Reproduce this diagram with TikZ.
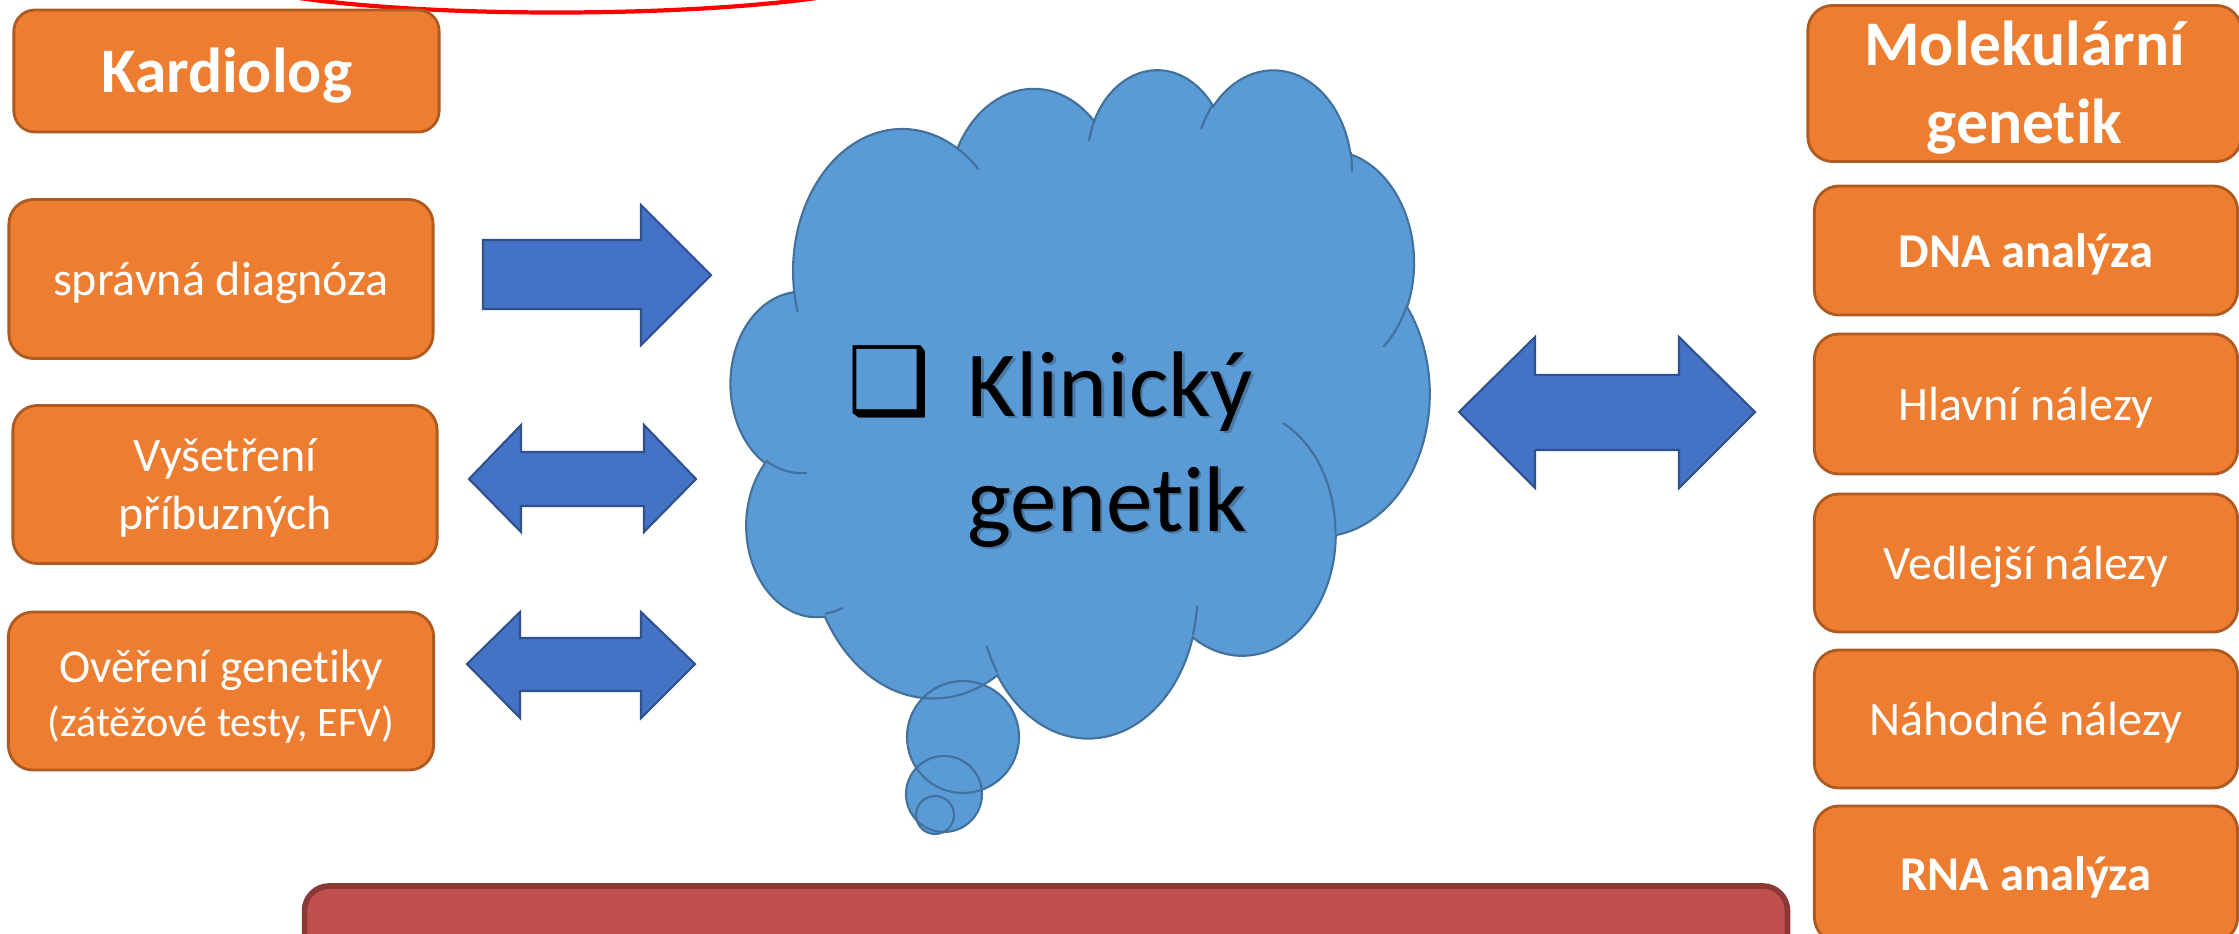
\documentclass[tikz,border=0pt]{standalone}
\usepackage{fontspec}
\setmainfont{Carlito}[Ligatures=NoCommon]
\newfontfamily\dejavu{DejaVu Sans}
\definecolor{orangeF}{HTML}{ED7D31}
\definecolor{orangeD}{HTML}{AE5A21}
\definecolor{arrowF}{HTML}{4472C4}
\definecolor{arrowD}{HTML}{2F528F}
\definecolor{cloudF}{HTML}{5B9BD5}
\definecolor{cloudD}{HTML}{41719C}
\definecolor{redF}{HTML}{C0504D}
\definecolor{redD}{HTML}{8C3836}
\newcommand\arcprep[5]{%
  \pgfmathsetmacro\tmpA{atan2(#2*sin(#4),#3*cos(#4))}%
  \pgfmathsetmacro\tmpB{atan2(#2*sin(#4+#5),#3*cos(#4+#5))}%
  \pgfmathsetmacro\tmpD{Mod(\tmpB-\tmpA,360)}%
  \expandafter\xdef\csname arc#1\endcsname{arc[x radius=#2, y radius=#3, start angle=\tmpA, delta angle=\tmpD]}%
}
\tikzset{
  obox/.style={draw=orangeD, fill=orangeF, line width=0.8pt, rounded corners=7pt, inner sep=0pt},
  sz/.style 2 args={minimum width={#1*0.28453pt}, minimum height={#2*0.28453pt}},
  txt/.style={text=white, inner sep=0pt, anchor=base},
  fr/.style={font=\fontsize{13.66}{16.7}\selectfont},
  frs/.style={font=\fontsize{11.95}{14.6}\selectfont},
  fb/.style={font=\bfseries\fontsize{13.8}{16.8}\selectfont},
  fbig/.style={font=\bfseries\fontsize{18.07}{22}\selectfont},
  barrow/.style={fill=arrowF, draw=arrowD, line width=0.6pt, line join=miter},
  ctext/.style={font=\fontsize{26.5}{33}\selectfont, inner sep=0pt, anchor=base west},
  cshadow/.style={ctext, text=black, opacity=0.22},
  cloudframe/.style={shift={(731,68)}, x=0.01615741cm, y=-0.01546296cm},
}
\begin{document}
\begin{tikzpicture}[x=0.01cm, y=-0.01cm]
\useasboundingbox (0,0) rectangle (2239,933);
\clip (0,0) rectangle (2239,933);
% arc preparation (OOXML cloud geometry, units of 100)
\arcprep{A}{67.53}{91.90}{-190.4875}{123.7805}
\arcprep{B}{53.33}{72.67}{-144.1024}{89.9452}
\arcprep{C}{43.65}{59.45}{-145.8079}{99.7230}
\arcprep{D}{48.57}{65.95}{-130.9861}{117.2417}
\arcprep{E}{53.33}{72.73}{-78.7089}{109.0269}
\arcprep{F}{67.75}{92.20}{-46.2673}{130.2690}
\arcprep{G}{57.85}{78.67}{0.6250}{114.0333}
\arcprep{H}{67.52}{92.15}{22.4516}{115.1726}
\arcprep{I}{77.20}{105.43}{66.2426}{75.7110}
\arcprep{J}{43.60}{59.18}{-274.9421}{146.7356}
\arcprep{K}{43.45}{59.45}{-246.8285}{152.5189}
\arcprep{a}{43.45}{59.45}{86.7420}{26.4295}
\arcprep{b}{43.60}{59.18}{73.6105}{11.4475}
\arcprep{c}{67.52}{92.15}{137.6242}{14.0811}
\arcprep{d}{67.52}{92.15}{6.4533}{15.9984}
\arcprep{e}{57.85}{78.67}{-70.2924}{70.9174}
\arcprep{f}{53.33}{72.73}{30.3180}{27.7515}
\arcprep{g}{48.57}{65.95}{-13.7443}{14.8589}
\arcprep{h}{48.57}{65.95}{-149.1815}{18.1954}
\arcprep{i}{43.65}{59.45}{-163.4943}{17.6864}
\arcprep{j}{67.53}{91.90}{-66.7070}{12.3194}
\arcprep{k}{67.53}{91.90}{157.6544}{11.8582}

% red curve at top
\draw[red, line width=1.2pt] (296,-2.5) .. controls (430,17.5) and (680,17.5) .. (820,-2.5);

% bottom red bar
\node[draw=redD, fill=redF, line width=1.6pt, rounded corners=7pt, sz={1482}{140}, inner sep=0pt] (bar) at (1046,956) {};

% cloud fills
\begin{scope}[cloudframe]
  \fill[cloudF] (39.00,143.70) \arcA \arcB \arcC \arcD \arcE \arcF \arcG \arcH \arcI \arcJ \arcK -- cycle;
\end{scope}
\fill[cloudF] (963,737) circle (56);
\fill[cloudF] (944,794) circle (38);
\fill[cloudF] (935,815) circle (19);
% cloud outlines
\begin{scope}[cloudframe]
  \draw[cloudD, line width=0.6pt] (39.00,143.70) \arcA \arcB \arcC \arcD \arcE \arcF \arcG \arcH \arcI \arcJ \arcK -- cycle;
  \draw[cloudD, line width=0.6pt]
    (46.93,261.77) \arca
    (69.28,348.99) \arcb
    (164.78,390.90) \arcc
    (288.27,347.51) \arcd
    (341.29,229.54) \arce
    (417.98,153.54) \arcf
    (383.24,54.26) \arcg
    (290.78,39.52) \arch
    (221.41,47.20) \arci
    (140.00,51.92) \arcj
    (41.27,157.89) \arck;
\end{scope}
\draw[cloudD, line width=0.6pt] (963,737) circle (56);
\draw[cloudD, line width=0.6pt] (944,794) circle (38);
\draw[cloudD, line width=0.6pt] (935,815) circle (19);

% cloud text
\node[cshadow] (klins) at (969.5,418.5) {Klinický};
\node[cshadow] (gens) at (969.5,533.5) {genetik};
\node[ctext] (klin) at (967,416) {Klinický};
\node[ctext] (gen) at (967,531) {genetik};
\node[inner sep=0pt, anchor=base east, font=\dejavu\fontsize{26.5}{33}\selectfont] (bul) at (932,413) {❑};

% left boxes
\node[obox, sz={425}{122}, rounded corners=6pt] (kardiolog) at (226.5,71) {};
\node[txt, fbig] (kardiolog-t) at (226.5,92.7) {Kardiolog};
\node[obox, sz={424}{159}] (diag) at (221,279) {};
\node[txt, fr] (diag-t) at (221,295.5) {správná diagnóza};
\node[obox, sz={424}{158}] (vys) at (225,484.5) {};
\node[txt, fr] (vys-t1) at (225,471.5) {Vyšetření};
\node[txt, fr] (vys-t2) at (225,529.5) {příbuzných};
\node[obox, sz={425}{158}] (over) at (221,691) {};
\node[txt, font=\fontsize{13.4}{16.3}\selectfont] (over-t1) at (221,682) {Ověření genetiky};
\node[txt, frs] (over-t2) at (221,736) {(zátěžové testy, EFV)};

% right boxes
\node[obox, sz={433}{156}] (mol) at (2024.5,83.5) {};
\node[txt, fbig] (mol-t1) at (2024.5,65.5) {Molekulární};
\node[txt, fbig] (mol-t2) at (2024.5,143) {genetik};
\node[obox, sz={423}{129}] (dna) at (2026,250.5) {};
\node[txt, fb] (dna-t) at (2026,267) {DNA analýza};
\node[obox, sz={423}{140}] (hlav) at (2026,404) {};
\node[txt, fr] (hlav-t) at (2026,420.5) {Hlavní nálezy};
\node[obox, sz={423}{138}] (vedl) at (2026,563) {};
\node[txt, fr] (vedl-t) at (2026,579.5) {Vedlejší nálezy};
\node[obox, sz={423}{138}] (nah) at (2026,719) {};
\node[txt, fr] (nah-t) at (2026,735.5) {Náhodné nálezy};
\node[obox, sz={423}{136}] (rna) at (2026,874) {};
\node[txt, fb] (rna-t) at (2026,890.5) {RNA analýza};

% block arrows
\draw[barrow] (483,240) -- (641,240) -- (641,205) -- (711,275) -- (641,345) -- (641,309) -- (483,309) -- cycle;
\draw[barrow] (469,479) -- (521,425) -- (521,452) -- (644,452) -- (644,425) -- (696,479) -- (644,532) -- (644,506) -- (521,506) -- (521,532) -- cycle;
\draw[barrow] (467,664) -- (520,612) -- (520,638) -- (641,638) -- (641,612) -- (695,664) -- (641,718) -- (641,691) -- (520,691) -- (520,718) -- cycle;
\draw[barrow] (1459,412) -- (1535,337) -- (1535,375) -- (1679,375) -- (1679,337) -- (1755,412) -- (1679,488) -- (1679,450) -- (1535,450) -- (1535,488) -- cycle;
\end{tikzpicture}
\end{document}
